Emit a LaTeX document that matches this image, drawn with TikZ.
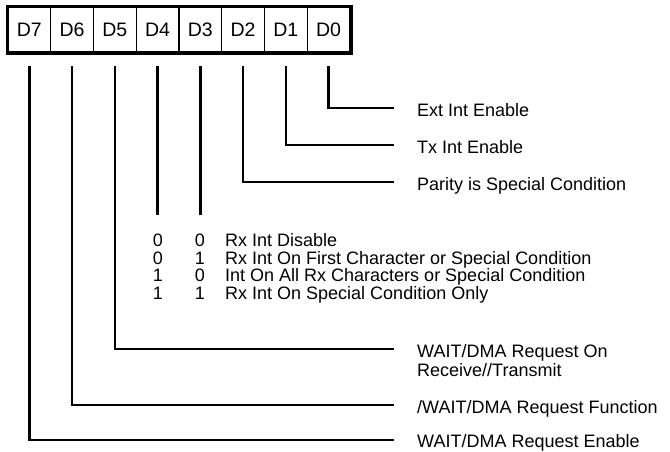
\documentclass[tikz,border=0pt]{standalone}
\usepackage{fontspec}
\setmainfont{Liberation Sans}
\begin{document}
\begin{tikzpicture}[x=1pt,y=-1pt,
  txt/.style={inner sep=0pt, text height=16pt, text depth=0pt, font=\fontsize{18}{20}\selectfont},
  cell/.style={draw, line width=1.2pt, minimum width=42.75pt, minimum height=45pt, inner sep=0pt, font=\fontsize{19.5}{22}\selectfont},
  lab/.style={txt, anchor=west},
  dig/.style={txt, anchor=center},
  conn/.style={line width=2.6pt},
  outer/.style={line width=3.8pt}]
\useasboundingbox (0,0) rectangle (670,451);
% register cells
\foreach \i/\n in {0/7,1/6,2/5,3/4,4/3,5/2,6/1,7/0}
  \node[cell] (D\n) at ({8+42.75*(\i+0.5)},29.5) {D\n};
\draw[outer] (D7.north west) rectangle (D0.south east);
% start points of the connectors
\foreach \n in {0,...,7}
  \coordinate (s\n) at (D\n.south |- 0,66);
% labels
\node[lab] (l0) at (417,108) {Ext Int Enable};
\node[lab] (l1) at (417,145) {Tx Int Enable};
\node[lab] (l2) at (417,182) {Parity is Special Condition};
\node[lab] (l5) at (417,349) {WAIT/DMA Request On};
\node[lab] (l5b) at (417,368) {Receive//Transmit};
\node[lab] (l6) at (417,405) {/WAIT/DMA Request Function};
\node[lab, text height=14pt] (l7) at (417,440) {WAIT/DMA Request Enable};
% table for D4/D3
\node[dig] (a1) at (158,238) {0}; \node[dig] (b1) at (200,238) {0}; \node[lab] (t1) at (225,238) {Rx Int Disable};
\node[dig] (a2) at (158,256) {0}; \node[dig] (b2) at (200,256) {1}; \node[lab] (t2) at (225,256) {Rx Int On First Character or Special Condition};
\node[dig] (a3) at (158,273.5) {1}; \node[dig] (b3) at (200,273.5) {0}; \node[lab] (t3) at (225,273.5) {Int On All Rx Characters or Special Condition};
\node[dig] (a4) at (158,291) {1}; \node[dig] (b4) at (200,291) {1}; \node[lab] (t4) at (225,291) {Rx Int On Special Condition Only};
\coordinate (e4) at (s4 |- 0,215);
\coordinate (e3) at (s3 |- 0,215);
% connectors
\foreach \n in {0,1,2,5,6,7}
  \draw[conn, shorten >=23pt] (s\n) |- (l\n.west);
\draw[conn] (s4) -- (e4);
\draw[conn] (s3) -- (e3);
\end{tikzpicture}
\end{document}
